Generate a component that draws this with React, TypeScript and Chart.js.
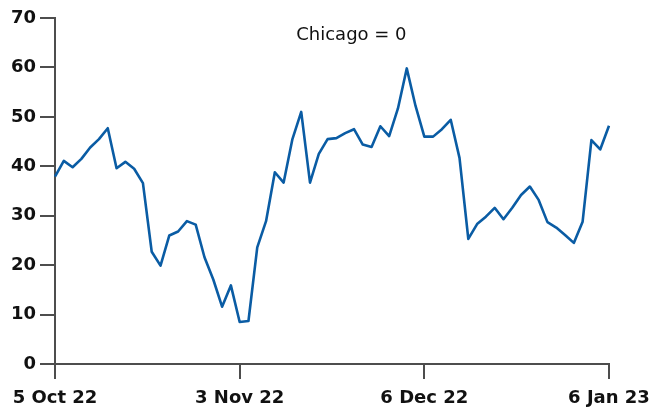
import React, { useEffect, useRef } from "react";
import { Chart, registerables } from "chart.js";

Chart.register(...registerables);

const values: number[] = [
  37.9, 41.1, 39.8, 41.5, 43.8, 45.5, 47.7, 39.6, 40.9, 39.5,
  36.6, 22.7, 19.9, 26.0, 26.8, 28.9, 28.2, 21.6, 17.1, 11.6,
  15.9, 8.5, 8.7, 23.6, 28.9, 38.8, 36.7, 45.5, 51.0, 36.7,
  42.5, 45.5, 45.7, 46.7, 47.5, 44.4, 43.9, 48.1, 46.1, 51.7,
  59.8, 52.2, 46.0, 46.0, 47.5, 49.4, 41.7, 25.3, 28.3, 29.8,
  31.6, 29.3, 31.6, 34.2, 35.9, 33.2, 28.7, 27.6, 26.1, 24.5,
  28.8, 45.3, 43.4, 48.2,
];
const dayIndex: number[] = values.map((_, i) => i);
const tickIndex: number[] = [0, 21, 42, 63];
const tickLabels: string[] = ["5 Oct 22", "3 Nov 22", "6 Dec 22", "6 Jan 23"];
const titleText = "Chicago = 0";

const AXIS = "#4d4d4d";
const LINE = "#0a5ca4";

export default function App() {
  const ref = useRef<HTMLCanvasElement | null>(null);
  useEffect(() => {
    if (!ref.current) return;
    const titlePlugin = {
      id: "innerTitle",
      afterDatasetsDraw(chart: any) {
        const { ctx, chartArea } = chart;
        ctx.save();
        ctx.font = "18px 'DejaVu Sans'";
        ctx.fillStyle = "#111";
        ctx.textAlign = "center";
        ctx.textBaseline = "middle";
        const x = chartArea.left + (chartArea.right - chartArea.left) * 0.535;
        const y = chartArea.top + 17;
        ctx.fillText(titleText, x, y);
        ctx.restore();
      },
    };
    const chart = new Chart(ref.current, {
      type: "line",
      data: {
        labels: dayIndex,
        datasets: [
          {
            data: values,
            borderColor: LINE,
            backgroundColor: LINE,
            borderWidth: 2.6,
            pointRadius: 0,
            tension: 0,
            borderJoinStyle: "round",
          },
        ],
      },
      options: {
        animation: false,
        responsive: false,
        maintainAspectRatio: false,
        layout: { padding: { left: 0, right: 45, top: 18, bottom: 0 } },
        plugins: { legend: { display: false }, tooltip: { enabled: false }, title: { display: false } },
        scales: {
          x: {
            type: "category",
            offset: false,
            afterBuildTicks: (scale: any) => {
              scale.ticks = tickIndex.map((v) => ({ value: v }));
            },
            afterFit: (scale: any) => {
              scale.height = 44;
              scale.paddingLeft = 0;
              scale.paddingRight = 0;
            },
            grid: {
              drawOnChartArea: false,
              drawTicks: true,
              tickLength: 15,
              color: AXIS,
              lineWidth: 2,
            },
            border: { display: true, color: AXIS, width: 2 },
            ticks: {
              autoSkip: false,
              maxRotation: 0,
              padding: 9,
              color: "#111",
              font: { family: "'DejaVu Sans'", size: 18, weight: "bold" },
              callback: (value: any) => {
                const k = tickIndex.indexOf(Number(value));
                return k >= 0 ? tickLabels[k] : "";
              },
            },
          },
          y: {
            min: 0,
            max: 70,
            afterFit: (scale: any) => {
              scale.width = 55;
              scale.paddingTop = 0;
              scale.paddingBottom = 0;
            },
            grid: {
              drawOnChartArea: false,
              drawTicks: true,
              tickLength: 15,
              color: AXIS,
              lineWidth: 2,
            },
            border: { display: true, color: AXIS, width: 2 },
            ticks: {
              stepSize: 10,
              padding: 4,
              color: "#111",
              font: { family: "'DejaVu Sans'", size: 18, weight: "bold" },
            },
          },
        },
      },
      plugins: [titlePlugin],
    });
    return () => chart.destroy();
  }, []);
  return (
    <div style={{ position: "absolute", left: 0, top: 0, width: 654, height: 408, background: "#fff" }}>
      <canvas ref={ref} width={654} height={408} style={{ width: 654, height: 408 }} />
    </div>
  );
}
